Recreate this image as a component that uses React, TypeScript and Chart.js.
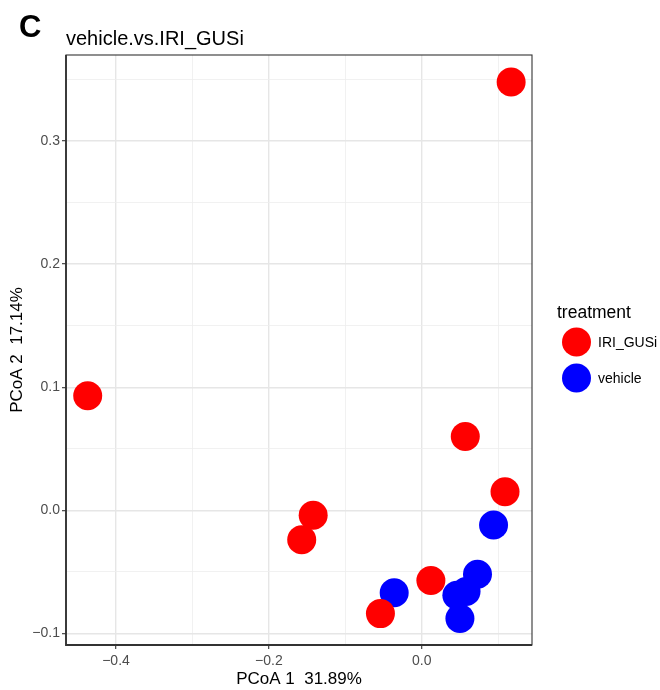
import React, { useEffect, useRef } from "react";
import { Chart, registerables } from "chart.js";

Chart.register(...registerables);

const panelLabel = "C";
const chartTitle = "vehicle.vs.IRI_GUSi";
const legendTitle = "treatment";
const xTitle = "PCoA 1  31.89%";
const yTitle = "PCoA 2  17.14%";

const seriesNames = ["IRI_GUSi", "vehicle"];
const seriesColors = ["#FF0000", "#0000FF"];

const iriX = [0.117, -0.437, 0.057, 0.109, -0.142, -0.157, -0.054, 0.012];
const iriY = [0.348, 0.093, 0.060, 0.015, -0.004, -0.024, -0.084, -0.057];
const vehX = [0.094, -0.036, 0.073, 0.058, 0.046, 0.050];
const vehY = [-0.012, -0.067, -0.052, -0.066, -0.069, -0.088];

const xRange = [-0.4654, 0.1443];
const yRange = [-0.1095, 0.37];
const xStep = 0.1;
const yStep = 0.05;

const FONT = "'Liberation Sans', Arial, Helvetica, sans-serif";
const TICK_COLOR = "#4D4D4D";
const GRID_MAJOR = "#E6E6E6";
const GRID_MINOR = "#EEEEEE";

const fmt = (v: number) => {
  const r = Math.round(v * 10) / 10;
  return (r < 0 ? "\u2212" : "") + Math.abs(r).toFixed(1);
};
const xMajor = (v: number) => Math.round(v * 10) % 2 === 0;
const yMajor = (v: number) => Math.round(v * 20) % 2 === 0;

const toPoints = (xs: number[], ys: number[]) => xs.map((x, i) => ({ x, y: ys[i] }));

const decorPlugin = {
  id: "decor",
  afterDraw(chart: any) {
    const { ctx, chartArea } = chart;
    const { left, right, top, bottom } = chartArea;
    ctx.save();
    // panel border
    ctx.strokeStyle = "#333333";
    ctx.lineWidth = 1.1;
    ctx.strokeRect(left, top, right - left, bottom - top);
    ctx.lineWidth = 1.8;
    ctx.beginPath();
    ctx.moveTo(left, top);
    ctx.lineTo(left, bottom);
    ctx.lineTo(right, bottom);
    ctx.stroke();

    // panel label and title
    ctx.fillStyle = "#000";
    ctx.textBaseline = "alphabetic";
    ctx.textAlign = "left";
    ctx.font = `bold 31px ${FONT}`;
    ctx.fillText(panelLabel, 19, 37);
    ctx.font = `20px ${FONT}`;
    ctx.fillText(chartTitle, 66, 45);

    // legend
    ctx.font = `17.5px ${FONT}`;
    ctx.textBaseline = "middle";
    ctx.fillText(legendTitle, 557, 313);
    const ds = chart.data.datasets;
    ds.forEach((d: any, i: number) => {
      const cy = 342 + i * 36;
      ctx.beginPath();
      ctx.fillStyle = d.backgroundColor;
      ctx.arc(576.5, cy, 14.5, 0, Math.PI * 2);
      ctx.fill();
      ctx.fillStyle = "#000";
      ctx.font = `14px ${FONT}`;
      ctx.fillText(d.label, 598, cy + 1);
    });
    ctx.restore();
  },
};

export default function App() {
  const ref = useRef<HTMLCanvasElement>(null);
  useEffect(() => {
    const chart = new Chart(ref.current as HTMLCanvasElement, {
      type: "scatter",
      data: {
        datasets: [
          {
            label: seriesNames[0],
            data: toPoints(iriX, iriY),
            backgroundColor: seriesColors[0],
            borderWidth: 0,
            pointRadius: 14.5,
            pointHoverRadius: 14.5,
          },
          {
            label: seriesNames[1],
            data: toPoints(vehX, vehY),
            backgroundColor: seriesColors[1],
            borderWidth: 0,
            pointRadius: 14.5,
            pointHoverRadius: 14.5,
          },
        ],
      },
      options: {
        responsive: false,
        animation: false,
        devicePixelRatio: 1,
        layout: { padding: { top: 55, right: 128, left: 0, bottom: 0 } },
        plugins: {
          legend: { display: false },
          tooltip: { enabled: false },
          title: { display: false },
        },
        scales: {
          x: {
            type: "linear",
            position: "bottom",
            min: xRange[0],
            max: xRange[1],
            afterFit: (s: any) => {
              s.height = 45;
            },
            border: { display: false },
            grid: {
              color: (c: any) => (c.tick && xMajor(c.tick.value) ? GRID_MAJOR : GRID_MINOR),
              lineWidth: (c: any) => (c.tick && xMajor(c.tick.value) ? 1.4 : 0.8),
              tickColor: (c: any) => (c.tick && xMajor(c.tick.value) ? "#333333" : "rgba(0,0,0,0)"),
              tickLength: 4,
              tickWidth: 1.1,
            },
            ticks: {
              stepSize: xStep,
              includeBounds: false,
              autoSkip: false,
              maxRotation: 0,
              padding: 4,
              color: TICK_COLOR,
              font: { family: FONT, size: 14 },
              callback: (v: any) => (xMajor(Number(v)) ? fmt(Number(v)) : ""),
            },
            title: {
              display: true,
              text: xTitle,
              color: "#000",
              font: { family: FONT, size: 17 },
              padding: { top: 0, bottom: 0 },
            },
          },
          y: {
            type: "linear",
            position: "left",
            min: yRange[0],
            max: yRange[1],
            afterFit: (s: any) => {
              s.width = 66;
            },
            border: { display: false },
            grid: {
              color: (c: any) => (c.tick && yMajor(c.tick.value) ? GRID_MAJOR : GRID_MINOR),
              lineWidth: (c: any) => (c.tick && yMajor(c.tick.value) ? 1.4 : 0.8),
              tickColor: (c: any) => (c.tick && yMajor(c.tick.value) ? "#333333" : "rgba(0,0,0,0)"),
              tickLength: 4,
              tickWidth: 1.1,
            },
            ticks: {
              stepSize: yStep,
              includeBounds: false,
              autoSkip: false,
              padding: 2,
              color: TICK_COLOR,
              font: { family: FONT, size: 14 },
              callback: (v: any) => (yMajor(Number(v)) ? fmt(Number(v)) : ""),
            },
            title: {
              display: true,
              text: yTitle,
              color: "#000",
              font: { family: FONT, size: 17 },
              padding: { top: 7, bottom: 0 },
            },
          },
        },
      },
      plugins: [decorPlugin],
    } as any);
    return () => chart.destroy();
  }, []);

  return (
    <div
      style={{
        position: "absolute",
        left: 0,
        top: 0,
        width: 660,
        height: 690,
        background: "#fff",
      }}
    >
      <canvas ref={ref} width={660} height={690} style={{ display: "block" }} />
    </div>
  );
}
